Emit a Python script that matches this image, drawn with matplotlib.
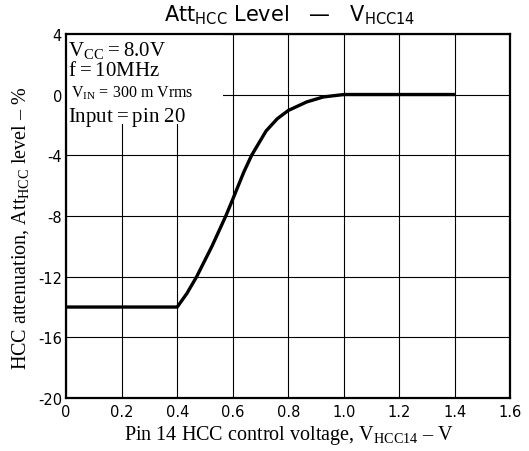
import matplotlib
matplotlib.use("Agg")
import matplotlib.pyplot as plt
from matplotlib.patches import Rectangle

# curve
v_hcc14 = [0.0, 0.4, 0.435, 0.47, 0.525, 0.575, 0.6, 0.64, 0.668, 0.72, 0.76, 0.8, 0.866, 0.926, 1.0, 1.4]
att_level = [-14, -14, -13.1, -12, -10, -8, -6.9, -5.1, -4.0, -2.4, -1.6, -1.05, -0.49, -0.16, 0, 0]

x_ticks = [0, 0.2, 0.4, 0.6, 0.8, 1.0, 1.2, 1.4, 1.6]
x_ticklabels = ["0", "0.2", "0.4", "0.6", "0.8", "1.0", "1.2", "1.4", "1.6"]
y_ticks = [4, 0, -4, -8, -12, -16, -20]
y_ticklabels = ["4", "0", "-4", "-8", "-12", "-16", "-20"]

plt.rcParams["mathtext.fontset"] = "custom"
plt.rcParams["mathtext.rm"] = "Liberation Serif"
plt.rcParams["mathtext.sf"] = "DejaVu Sans"

SERIF = "Liberation Serif"
SANS = "DejaVu Sans"

fig = plt.figure(figsize=(5.29, 4.52), dpi=100)
ax = fig.add_axes([0.125, 0.117, 0.840, 0.806])

ax.set_xlim(0, 1.6)
ax.set_ylim(-20, 4)
ax.set_xticks(x_ticks)
ax.set_xticklabels(x_ticklabels, family=SANS, fontsize=10.5)
ax.set_yticks(y_ticks)
ax.set_yticklabels(y_ticklabels, family=SANS, fontsize=10.5)
ax.tick_params(axis="x", length=0, pad=4)
ax.tick_params(axis="y", length=0, pad=3)
ax.grid(True, color="black", lw=0.8, zorder=1)
ax.set_axisbelow(True)
for s in ax.spines.values():
    s.set_linewidth(1.6)

# white box behind the conditions text hides the grid there
ax.add_patch(Rectangle((0, -1.95), 0.566, 5.95, facecolor="white",
                       edgecolor="none", zorder=2))

ax.plot(v_hcc14, att_level, color="black", lw=2.4, zorder=3,
        solid_capstyle="butt")

ax.text(0.006, 3.6, r"V$_{\mathrm{CC}}$$=$8.0V", family=SERIF, fontsize=15,
        va="top", zorder=4)
ax.text(0.006, 2.2, "f$=$10MHz", family=SERIF, fontsize=15, va="top", zorder=4)
ax.text(0.018, 0.75, r"V$_{\mathrm{IN}}$ = 300 m Vrms", family=SERIF, fontsize=11.5,
        va="top", zorder=4)
ax.text(0.006, -0.7, "Input$=$pin 20", family=SERIF, fontsize=15,
        va="top", zorder=4)

fig.text(0.548, 0.966, r"Att$_{\mathsf{HCC}}$ Level   —   V$_{\mathsf{HCC14}}$",
         family=SANS, fontsize=15, ha="center", va="center")
ax.set_xlabel(r"Pin 14 HCC control voltage, V$_{\mathrm{HCC14}}$ – V",
              family=SERIF, fontsize=14.5, labelpad=3)
ax.set_ylabel(r"HCC attenuation, Att$_{\mathrm{HCC}}$ level – %",
              family=SERIF, fontsize=14.5)
ax.yaxis.set_label_coords(-0.078, 0.47)

fig.savefig("out.png", dpi=100)
